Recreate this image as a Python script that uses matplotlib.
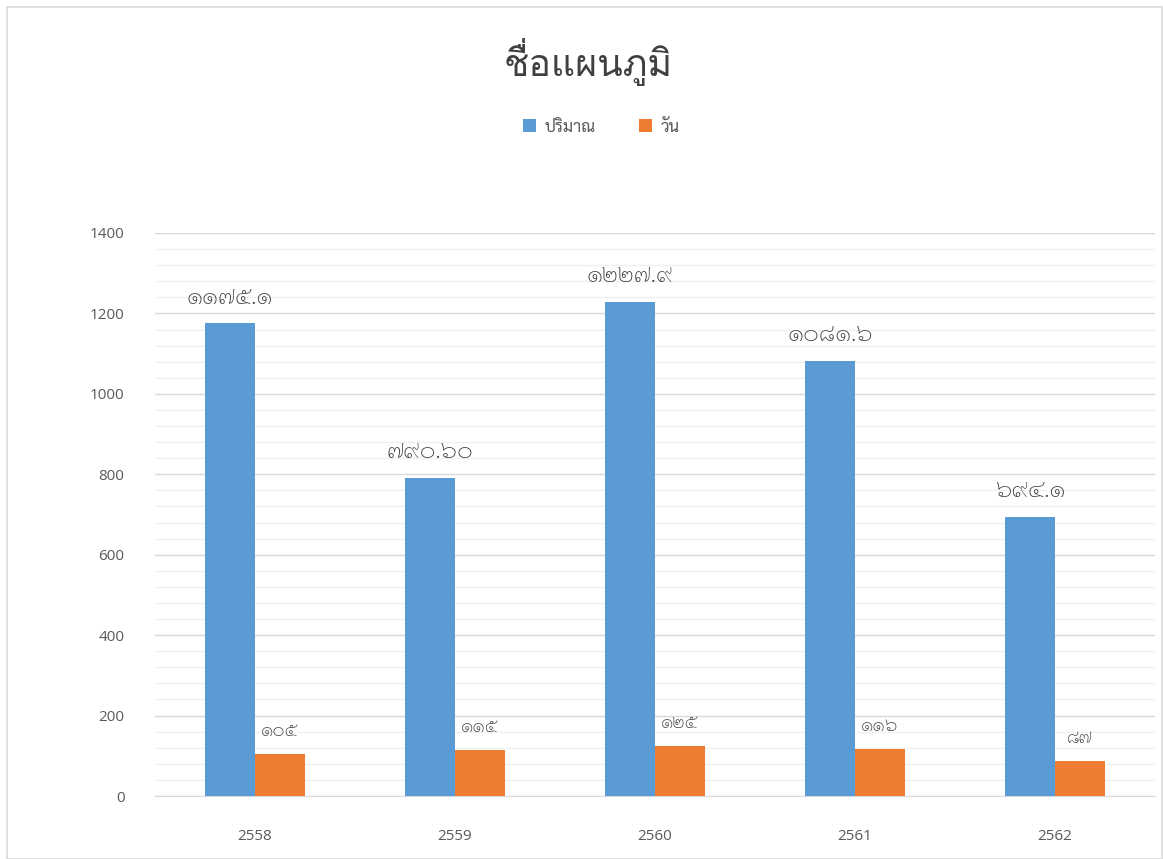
import matplotlib
matplotlib.use("Agg")
import matplotlib.pyplot as plt
from matplotlib.patches import Rectangle
from matplotlib.ticker import MultipleLocator
import numpy as np

categories = ["2558", "2559", "2560", "2561", "2562"]
amount = [1175.1, 790.6, 1227.9, 1081.6, 694.1]
days = [105, 115, 125, 116, 87]
amount_labels = ["๑๑๗๕.๑", "๗๙๐.๖๐", "๑๒๒๗.๙", "๑๐๘๑.๖", "๖๙๔.๑"]
days_labels = ["๑๐๕", "๑๑๕", "๑๒๕", "๑๑๖", "๘๗"]
series_names = ["ปริมาณ", "วัน"]
title = "ชื่อแผนภูมิ"

THAI_TITLE = ["Loma", "Sarabun", "DejaVu Sans"]
THAI = ["Sarabun", "Loma", "DejaVu Sans"]
plt.rcParams['font.family'] = ["Open Sans", "Loma", "DejaVu Sans"]

fig = plt.figure(figsize=(11.63, 8.59), dpi=100)
ax = fig.add_axes([155/1163, 63/859, 1000/1163, 563/859])

x = np.arange(len(categories))
w = 0.25
blue = "#5b9bd5"
orange = "#ed7d31"
b1 = ax.bar(x - w/2, amount, w, color=blue, label=series_names[0], zorder=3)
b2 = ax.bar(x + w/2, days, w, color=orange, label=series_names[1], zorder=3)

for xi, v, t in zip(x, amount, amount_labels):
    ax.annotate(t, (xi - w/2, v), xytext=(0, 10), textcoords="offset points",
                ha="center", va="bottom", fontsize=17.5, color="#404040", zorder=4,
                family=THAI, fontweight="light")
for xi, v, t in zip(x, days, days_labels):
    ax.annotate(t, (xi + w/2, v), xytext=(0, 10), textcoords="offset points",
                ha="center", va="bottom", fontsize=13.5, color="#404040", zorder=4,
                family=THAI, fontweight="light")

ax.set_xlim(-0.5, len(categories) - 0.5)
ax.set_ylim(0, 1400)
ax.yaxis.set_major_locator(MultipleLocator(200))
ax.yaxis.set_minor_locator(MultipleLocator(40))
ax.grid(axis="y", which="major", color="#d9d9d9", linewidth=1.0, zorder=0)
ax.grid(axis="y", which="minor", color="#f0f0f0", linewidth=1.0, zorder=0)
ax.set_xticks(x)
ax.set_xticklabels(categories)
for s in ["top", "right", "left"]:
    ax.spines[s].set_visible(False)
ax.spines["bottom"].set_color("#d9d9d9")
ax.tick_params(axis="both", which="both", length=0, labelsize=11, colors="#595959")
ax.tick_params(axis="x", pad=24)
ax.tick_params(axis="y", pad=22)

fig.text(588/1163, 1 - 62/859, title, ha="center", va="center", fontsize=27,
         color="#404040", family=THAI_TITLE)
leg = fig.legend(handles=[b1, b2], labels=series_names, loc="center",
                 bbox_to_anchor=(601/1163, 1 - 127/859),
                 ncol=2, frameon=False, prop={"family": THAI, "size": 12},
                 handlelength=0.8, handleheight=0.8,
                 columnspacing=2.6, handletextpad=0.5, labelcolor="#595959")

fig.patches.append(Rectangle((7/1163, 0), 1 - 8/1163, 1 - 7/859, transform=fig.transFigure,
                             fill=False, edgecolor="#d9d9d9", linewidth=1.2))
fig.savefig("out.png", dpi=100)
